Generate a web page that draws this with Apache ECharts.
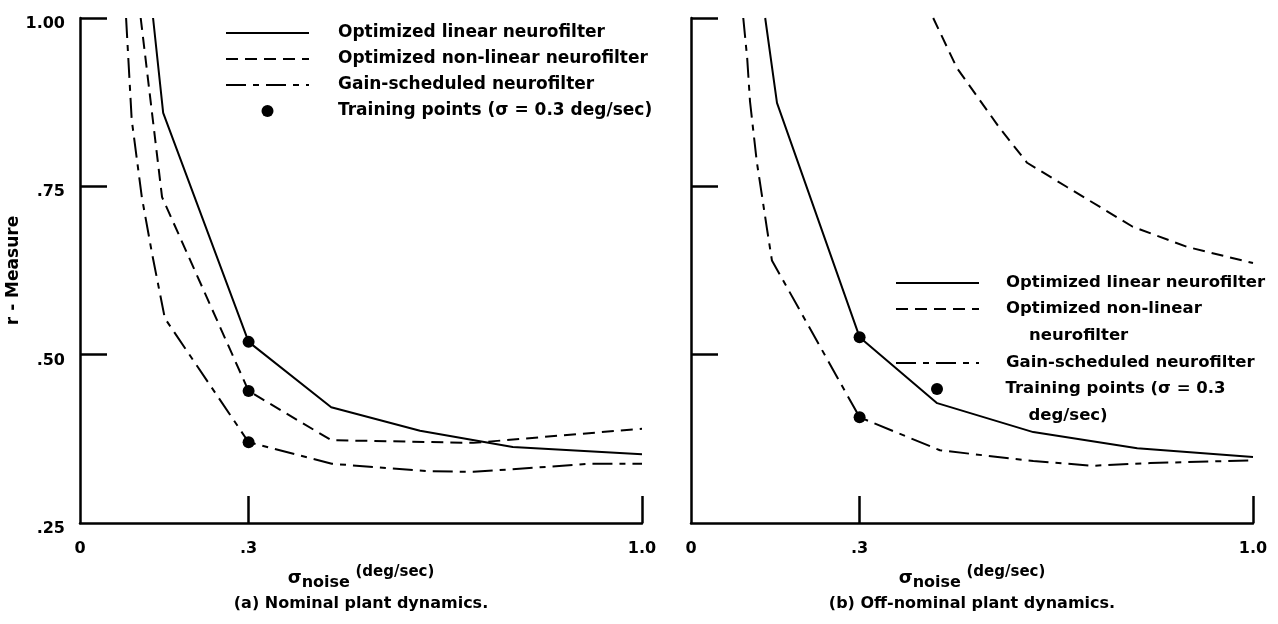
<!DOCTYPE html>
<html>
<head>
<meta charset="utf-8">
<script src="https://cdn.jsdelivr.net/npm/echarts@6/dist/echarts.min.js"></script>
<style>
  body { margin: 0; background: #fff; }
  #main { width: 1278px; height: 624px; }
</style>
</head>
<body>
<div id="main"></div>
<script>
// legend names (shared by both panels)
const seriesNames = ['Optimized linear neurofilter', 'Optimized non-linear neurofilter', 'Gain-scheduled neurofilter', 'Training points (σ = 0.3 deg/sec)']

// (a) nominal plant dynamics  -> [sigma_noise, r-measure]
const linearNominal = [[0.130, 1.0], [0.148, 0.859], [0.3, 0.519], [0.447, 0.422], [0.605, 0.387], [0.770, 0.363], [1.0, 0.352]]
const nonlinearNominal = [[0.108, 1.0], [0.146, 0.734], [0.3, 0.446], [0.447, 0.373], [0.70, 0.369], [1.0, 0.390]]
const gainNominal = [[0.082, 1.0], [0.092, 0.849], [0.110, 0.734], [0.128, 0.651], [0.151, 0.554], [0.3, 0.370], [0.448, 0.338], [0.617, 0.327], [0.70, 0.326], [0.806, 0.332], [0.907, 0.338], [1.0, 0.338]]
const trainNominal = [[0.3, 0.519], [0.3, 0.446], [0.3, 0.370]]

// (b) off-nominal plant dynamics
const linearOff = [[0.132, 1.0], [0.153, 0.874], [0.3, 0.526], [0.438, 0.428], [0.609, 0.385], [0.794, 0.361], [1.0, 0.348]]
const nonlinearOff = [[0.431, 1.0], [0.473, 0.926], [0.548, 0.838], [0.598, 0.785], [0.669, 0.749], [0.786, 0.690], [0.883, 0.660], [1.0, 0.636]]
const gainOff = [[0.093, 1.0], [0.100, 0.940], [0.105, 0.876], [0.117, 0.787], [0.135, 0.688], [0.144, 0.640], [0.3, 0.407], [0.443, 0.358], [0.609, 0.342], [0.715, 0.335], [0.817, 0.339], [1.0, 0.343]]
const trainOff = [[0.3, 0.526], [0.3, 0.407]]

// ticks / labels
const xTicks = [0.3, 1.0]
const xLabels = [0, 0.3, 1.0]
const yTicks = [0.5, 0.75, 1.0]
const yLabels = [0.25, 0.5, 0.75, 1.0]

const font = 'DejaVu Sans'
const black = '#000'
const dashed = [12, 7]
const dashDot = [20, 7, 6, 7]

const bold = (size, extra) => Object.assign({fontFamily: font, fontWeight: 'bold', fontSize: size, color: black}, extra || {})

const xText = v => v === 0 ? '0' : (v === 1 ? '1.0' : '.3')
const yText = v => v.toFixed(2).replace(/^0/, '')

function makeX(idx, caption) {
  return {
    type: 'value', gridIndex: idx, min: 0, max: 1,
    axisLine: {onZero: false, lineStyle: {color: black, width: 2.5}},
    axisTick: {inside: true, length: 27, customValues: xTicks, lineStyle: {color: black, width: 2.5}},
    axisLabel: Object.assign(bold(16), {customValues: xLabels, margin: 18, formatter: xText}),
    splitLine: {show: false},
    name: '{s|σ}{n|noise} {u|(deg/sec)}\n{c|' + caption + '}',
    nameLocation: 'middle',
    nameGap: 42,
    nameTextStyle: Object.assign(bold(16), {
      rich: {
        s: bold(18, {lineHeight: 26, verticalAlign: 'middle'}),
        n: bold(16, {lineHeight: 26, verticalAlign: 'bottom'}),
        u: bold(15, {lineHeight: 26, verticalAlign: 'top'}),
        c: bold(16, {lineHeight: 26})
      }
    })
  }
}

function makeY(idx, showLabel) {
  return {
    type: 'value', gridIndex: idx, min: 0.25, max: 1, interval: 0.25,
    axisLine: {show: true, onZero: false, lineStyle: {color: black, width: 2.5}},
    axisTick: {show: true, inside: true, length: 27, customValues: yTicks, lineStyle: {color: black, width: 2.5}},
    // labels sit a little below their ticks in the original
    axisLabel: Object.assign(bold(16), {show: showLabel, customValues: yLabels, margin: 15, verticalAlign: 'top', lineHeight: 12, formatter: yText}),
    splitLine: {show: false},
    name: showLabel ? 'r - Measure' : '',
    nameLocation: 'middle',
    nameGap: 52,
    nameTextStyle: bold(17)
  }
}

function lineSeries(name, idx, data, type) {
  return {
    name: name, type: 'line', xAxisIndex: idx, yAxisIndex: idx,
    data: data, symbol: 'none', clip: true,
    itemStyle: {color: black},
    lineStyle: {color: black, width: 2, type: type}
  }
}

function dotSeries(idx, data) {
  return {
    name: seriesNames[3], type: 'scatter', xAxisIndex: idx, yAxisIndex: idx,
    data: data, symbol: 'circle', symbolSize: 12,
    itemStyle: {color: black, opacity: 1}
  }
}

// legend entry: line items get no symbol, only the line
const legendItem = i => i < 3 ? {name: seriesNames[i], itemStyle: {opacity: 0}} : {name: seriesNames[i]}

// legend for the right panel: one component per row so wrapped text lines up with its icon
function rightLegend(i, left, centerY, text, lines) {
  return {
    data: [legendItem(i)], left: left, top: centerY - lines * 27 / 2 - 5,
    itemWidth: 83, itemHeight: 12, selectedMode: false,
    formatter: () => text,
    textStyle: bold(16.5, {lineHeight: 27, padding: [0, 0, 0, 22]})
  }
}

let option = {
  animation: false,
  backgroundColor: '#fff',
  grid: [
    {left: 80, top: 18, width: 562, height: 505},
    {left: 691, top: 18, width: 562, height: 505}
  ],
  xAxis: [makeX(0, '(a) Nominal plant dynamics.'), makeX(1, '(b) Off-nominal plant dynamics.')],
  yAxis: [makeY(0, true), makeY(1, false)],
  legend: [
    {
      data: [0, 1, 2, 3].map(legendItem), orient: 'vertical', left: 220, top: 18,
      itemWidth: 83, itemHeight: 12, itemGap: 6, selectedMode: false,
      textStyle: bold(17, {lineHeight: 20, padding: [0, 0, 0, 24]})
    },
    rightLegend(0, 890, 283, seriesNames[0], 1),
    rightLegend(1, 890, 309, '\nOptimized non-linear\n    neurofilter', 3),
    rightLegend(2, 890, 363, seriesNames[2], 1),
    // the dot row gets pushed left by the library, so it starts further right
    rightLegend(3, 926, 389, '\nTraining points (σ = 0.3\n    deg/sec)', 3)
  ],
  series: [
    lineSeries(seriesNames[0], 0, linearNominal, 'solid'),
    lineSeries(seriesNames[1], 0, nonlinearNominal, dashed),
    lineSeries(seriesNames[2], 0, gainNominal, dashDot),
    dotSeries(0, trainNominal),
    lineSeries(seriesNames[0], 1, linearOff, 'solid'),
    lineSeries(seriesNames[1], 1, nonlinearOff, dashed),
    lineSeries(seriesNames[2], 1, gainOff, dashDot),
    dotSeries(1, trainOff)
  ]
}

var chartDom = document.getElementById('main')
var myChart = echarts.init(chartDom)
myChart.setOption(option)
</script>
</body>
</html>
